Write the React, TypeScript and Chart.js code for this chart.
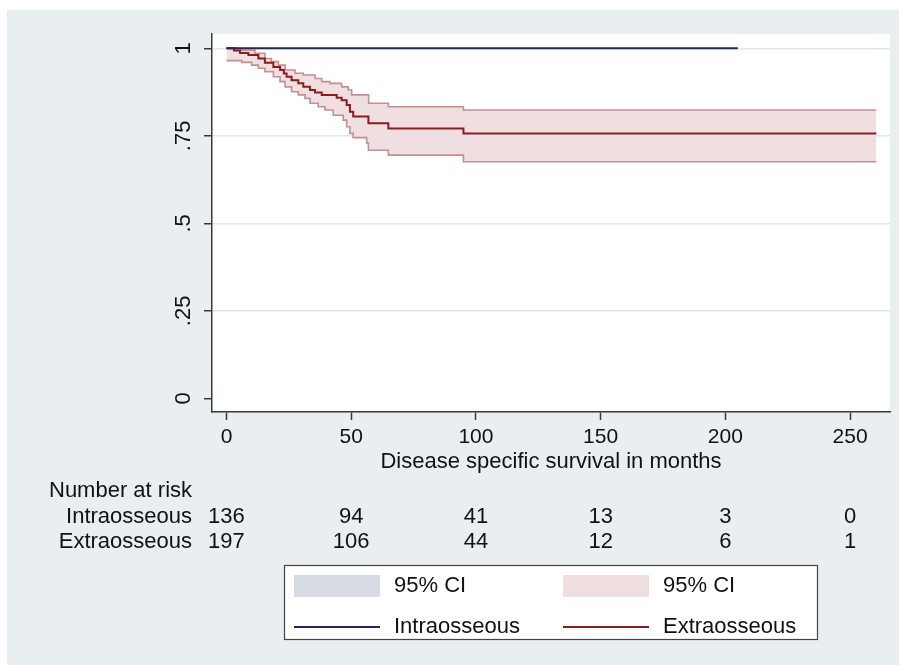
import React, { useEffect, useRef } from 'react';
import { Chart, registerables } from 'chart.js';

Chart.register(...registerables);

// ---- Data ----
const intraTimes = [0, 205];
const intraSurv = [1, 1];
const intraUpper = [1, 1];
const intraLower = [1, 1];

const extraTimes = [0, 3, 5.4, 8.8, 12.8, 15.4, 18.8, 21.5, 23, 24.1, 26.1, 28.8, 30.8, 33.5, 35.5, 38.2, 44.2, 46.2, 48.2, 49.5, 50.8, 56.9, 64.9, 95, 260.5];
const extraSurv = [1, 0.994, 0.987, 0.981, 0.971, 0.959, 0.947, 0.938, 0.928, 0.919, 0.909, 0.9, 0.89, 0.881, 0.874, 0.867, 0.859, 0.852, 0.838, 0.819, 0.805, 0.786, 0.771, 0.757, 0.757];

const extraUpperTimes = [0, 6, 11.4, 15.4, 18, 20.8, 23.5, 27.5, 30.8, 35.5, 38.2, 41.5, 46.2, 48.8, 50.2, 57, 64.9, 95, 260.5];
const extraUpper = [1, 0.995, 0.986, 0.971, 0.962, 0.952, 0.938, 0.929, 0.924, 0.914, 0.905, 0.9, 0.89, 0.881, 0.867, 0.843, 0.833, 0.824, 0.824];

const extraLowerTimes = [0, 6.1, 10.1, 12.8, 15.4, 18.8, 21.5, 23.5, 26.1, 28.8, 31.5, 33.5, 36.8, 39.5, 42.8, 46.8, 48.2, 49.5, 50.8, 56.2, 56.9, 64.9, 95, 260.5];
const extraLower = [0.965, 0.96, 0.952, 0.943, 0.933, 0.919, 0.905, 0.89, 0.876, 0.867, 0.857, 0.843, 0.833, 0.824, 0.809, 0.795, 0.776, 0.757, 0.745, 0.729, 0.709, 0.695, 0.676, 0.676];

const xTickValues = [0, 50, 100, 150, 200, 250];
const yTickValues = [0, 0.25, 0.5, 0.75, 1];
const yTickLabels = ['0', '.25', '.5', '.75', '1'];

const xTitle = 'Disease specific survival in months';
const riskTitle = 'Number at risk';
const groupNames = ['Intraosseous', 'Extraosseous'];
const riskIntra = [136, 94, 41, 13, 3, 0];
const riskExtra = [197, 106, 44, 12, 6, 1];
const ciLabel = '95% CI';

// ---- Styles ----
const FONT = '"Liberation Sans", Arial, Helvetica, sans-serif';
const BG = '#e9eff0';
const GRID = '#e0e8ea';
const AXIS = '#3a3a3a';
const BLUE = '#1b2a5e';
const RED = '#8c1c22';
const BAND_FILL = '#efdfe0';
const BAND_LINE = '#c68e93';
const BLUE_BAND = '#d8dce5';

const toPoints = (xs: number[], ys: number[]) => xs.map((x, i) => ({ x, y: ys[i] }));

const backgroundPlugin = {
  id: 'stataBackground',
  beforeDraw(chart: any) {
    const { ctx, chartArea } = chart;
    ctx.save();
    ctx.fillStyle = '#ffffff';
    ctx.fillRect(0, 0, chart.width, chart.height);
    ctx.fillStyle = BG;
    ctx.fillRect(7, 10, chart.width - 7, chart.height - 10);
    ctx.fillStyle = '#ffffff';
    ctx.fillRect(chartArea.left, chartArea.top, chartArea.right - chartArea.left, chartArea.bottom - chartArea.top);
    ctx.restore();
  },
};

const riskTablePlugin = {
  id: 'riskTable',
  afterDraw(chart: any) {
    const { ctx } = chart;
    const xs = chart.scales.x;
    ctx.save();
    ctx.font = `22px ${FONT}`;
    ctx.fillStyle = '#111';
    ctx.textBaseline = 'middle';
    ctx.textAlign = 'left';
    ctx.fillText(riskTitle, 49, 491);
    ctx.textAlign = 'right';
    ctx.fillText(groupNames[0], 192, 517);
    ctx.fillText(groupNames[1], 192, 542);
    ctx.textAlign = 'center';
    xTickValues.forEach((v, i) => {
      const px = xs.getPixelForValue(v);
      ctx.fillText(String(riskIntra[i]), px, 517);
      ctx.fillText(String(riskExtra[i]), px, 542);
    });
    ctx.restore();
  },
};

const legendPlugin = {
  id: 'stataLegend',
  afterDraw(chart: any) {
    const { ctx } = chart;
    ctx.save();
    const bx = 284, by = 565, bw = 533, bh = 74;
    ctx.fillStyle = '#ffffff';
    ctx.fillRect(bx, by, bw, bh);
    ctx.strokeStyle = '#444';
    ctx.lineWidth = 1.2;
    ctx.strokeRect(bx + 0.5, by + 0.5, bw, bh);

    const col1 = 294, col2 = 563, sw = 86;
    const textOff = 100;
    const row1 = 586, row2 = 627;
    ctx.fillStyle = BLUE_BAND;
    ctx.fillRect(col1, 575, sw, 22);
    ctx.fillStyle = BAND_FILL;
    ctx.fillRect(col2, 575, sw, 22);

    ctx.lineWidth = 2;
    ctx.strokeStyle = BLUE;
    ctx.beginPath();
    ctx.moveTo(col1, row2);
    ctx.lineTo(col1 + sw, row2);
    ctx.stroke();
    ctx.strokeStyle = RED;
    ctx.beginPath();
    ctx.moveTo(col2, row2);
    ctx.lineTo(col2 + sw, row2);
    ctx.stroke();

    ctx.font = `22px ${FONT}`;
    ctx.fillStyle = '#111';
    ctx.textBaseline = 'middle';
    ctx.textAlign = 'left';
    ctx.fillText(ciLabel, col1 + textOff, row1);
    ctx.fillText(ciLabel, col2 + textOff, row1);
    ctx.fillText(groupNames[0], col1 + textOff, row2);
    ctx.fillText(groupNames[1], col2 + textOff, row2);
    ctx.restore();
  },
};

export default function App() {
  const canvasRef = useRef<HTMLCanvasElement | null>(null);

  useEffect(() => {
    const canvas = canvasRef.current;
    if (!canvas) return;
    const chart = new Chart(canvas, {
      type: 'line',
      data: {
        datasets: [
          {
            label: groupNames[0],
            data: toPoints(intraTimes, intraSurv),
            borderColor: BLUE,
            borderWidth: 2,
            pointRadius: 0,
            stepped: true,
            fill: false,
          },
          {
            label: groupNames[1],
            data: toPoints(extraTimes, extraSurv),
            borderColor: RED,
            borderWidth: 2,
            pointRadius: 0,
            stepped: true,
            fill: false,
          },
          {
            label: ciLabel + ' upper (Extraosseous)',
            data: toPoints(extraUpperTimes, extraUpper),
            borderColor: BAND_LINE,
            backgroundColor: BAND_FILL,
            borderWidth: 1.6,
            pointRadius: 0,
            stepped: true,
            fill: '+1',
          },
          {
            label: ciLabel + ' lower (Extraosseous)',
            data: toPoints(extraLowerTimes, extraLower),
            borderColor: BAND_LINE,
            borderWidth: 1.6,
            pointRadius: 0,
            stepped: true,
            fill: false,
          },
          {
            label: ciLabel + ' upper (Intraosseous)',
            data: toPoints(intraTimes, intraUpper),
            borderColor: BLUE_BAND,
            backgroundColor: BLUE_BAND,
            borderWidth: 0,
            pointRadius: 0,
            stepped: true,
            fill: '+1',
          },
          {
            label: ciLabel + ' lower (Intraosseous)',
            data: toPoints(intraTimes, intraLower),
            borderColor: BLUE_BAND,
            borderWidth: 0,
            pointRadius: 0,
            stepped: true,
            fill: false,
          },
        ],
      },
      options: {
        responsive: false,
        animation: false,
        devicePixelRatio: 1,
        layout: { padding: { left: 0, top: 34, right: 9, bottom: 190 } },
        plugins: {
          legend: { display: false },
          tooltip: { enabled: false },
          filler: { drawTime: 'beforeDatasetsDraw' },
        },
        scales: {
          x: {
            type: 'linear',
            min: -5.8,
            max: 266,
            afterFit: (s: any) => { s.height = 63; },
            afterBuildTicks: (s: any) => { s.ticks = xTickValues.map((v) => ({ value: v })); },
            border: { display: true, color: AXIS, width: 1.5 },
            grid: { drawOnChartArea: false, drawTicks: true, tickLength: 8, tickColor: AXIS, tickWidth: 1.5 },
            ticks: {
              font: { family: FONT, size: 21 },
              color: '#111',
              padding: 5,
              maxRotation: 0,
              minRotation: 0,
              callback: (v: any) => String(v),
            },
            title: {
              display: true,
              text: xTitle,
              font: { family: FONT, size: 22 },
              color: '#111',
              padding: { top: 0, bottom: 0 },
            },
          },
          y: {
            type: 'linear',
            min: -0.039,
            max: 1.041,
            afterFit: (s: any) => { s.width = 212; },
            afterBuildTicks: (s: any) => { s.ticks = yTickValues.map((v) => ({ value: v })); },
            border: { display: true, color: AXIS, width: 1.5 },
            grid: {
              drawOnChartArea: true,
              color: (c: any) => (c.tick && c.tick.value === 0 ? 'rgba(0,0,0,0)' : GRID),
              lineWidth: 1.5,
              drawTicks: true,
              tickLength: 8,
              tickColor: AXIS,
              tickWidth: 1.5,
            },
            ticks: {
              font: { family: FONT, size: 22 },
              color: '#111',
              padding: 5,
              minRotation: 90,
              maxRotation: 90,
              crossAlign: 'center',
              callback: (v: any) => {
                const i = yTickValues.indexOf(Number(v));
                return i >= 0 ? yTickLabels[i] : '';
              },
            },
          },
        },
      },
      plugins: [backgroundPlugin, riskTablePlugin, legendPlugin],
    } as any);
    return () => chart.destroy();
  }, []);

  return (
    <div style={{ position: 'absolute', left: 0, top: 0, width: 899, height: 665, background: '#fff' }}>
      <canvas ref={canvasRef} width={899} height={665} style={{ display: 'block', width: 899, height: 665 }} />
    </div>
  );
}
